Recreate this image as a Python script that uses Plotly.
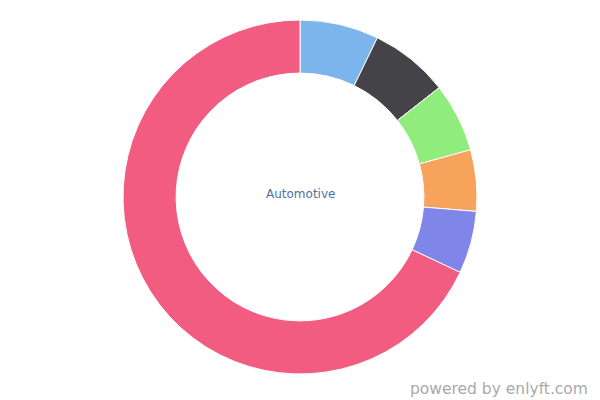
import plotly.graph_objects as go

labels = ["Segment 1", "Segment 2", "Segment 3", "Segment 4", "Segment 5", "Automotive"]
values = [7.2, 7.2, 6.3, 5.6, 5.7, 68.0]
colors = ["#7cb5ec", "#434348", "#90ed7d", "#f7a35c", "#8085e9", "#f15c80"]

W, H = 600, 400

def px(x):
    return x / W

def py(y):
    return 1 - y / H

fig = go.Figure(go.Pie(
    labels=labels,
    values=values,
    hole=0.70,
    sort=False,
    direction="clockwise",
    rotation=0,
    marker=dict(colors=colors, line=dict(color="#ffffff", width=1)),
    textinfo="none",
    hoverinfo="label+percent",
    domain=dict(x=[px(123), px(477)], y=[py(374), py(20)]),
    showlegend=False,
))

fig.add_annotation(text="Automotive", x=px(300), y=py(194), xref="paper", yref="paper",
                   showarrow=False, font=dict(family="DejaVu Sans", size=12, color="#4d72a6"))
fig.add_annotation(text="powered by enlyft.com", x=px(590), y=py(389), xref="paper", yref="paper",
                   xanchor="right", yanchor="middle", showarrow=False,
                   font=dict(family="DejaVu Sans", size=15.5, color="#aaaaaa"))

fig.update_layout(width=W, height=H, margin=dict(l=0, r=0, t=0, b=0),
                  paper_bgcolor="white", plot_bgcolor="white")
fig.write_html("out.html", config={"displayModeBar": False},
               post_script="document.body.style.margin='0';document.body.style.overflow='hidden';")
